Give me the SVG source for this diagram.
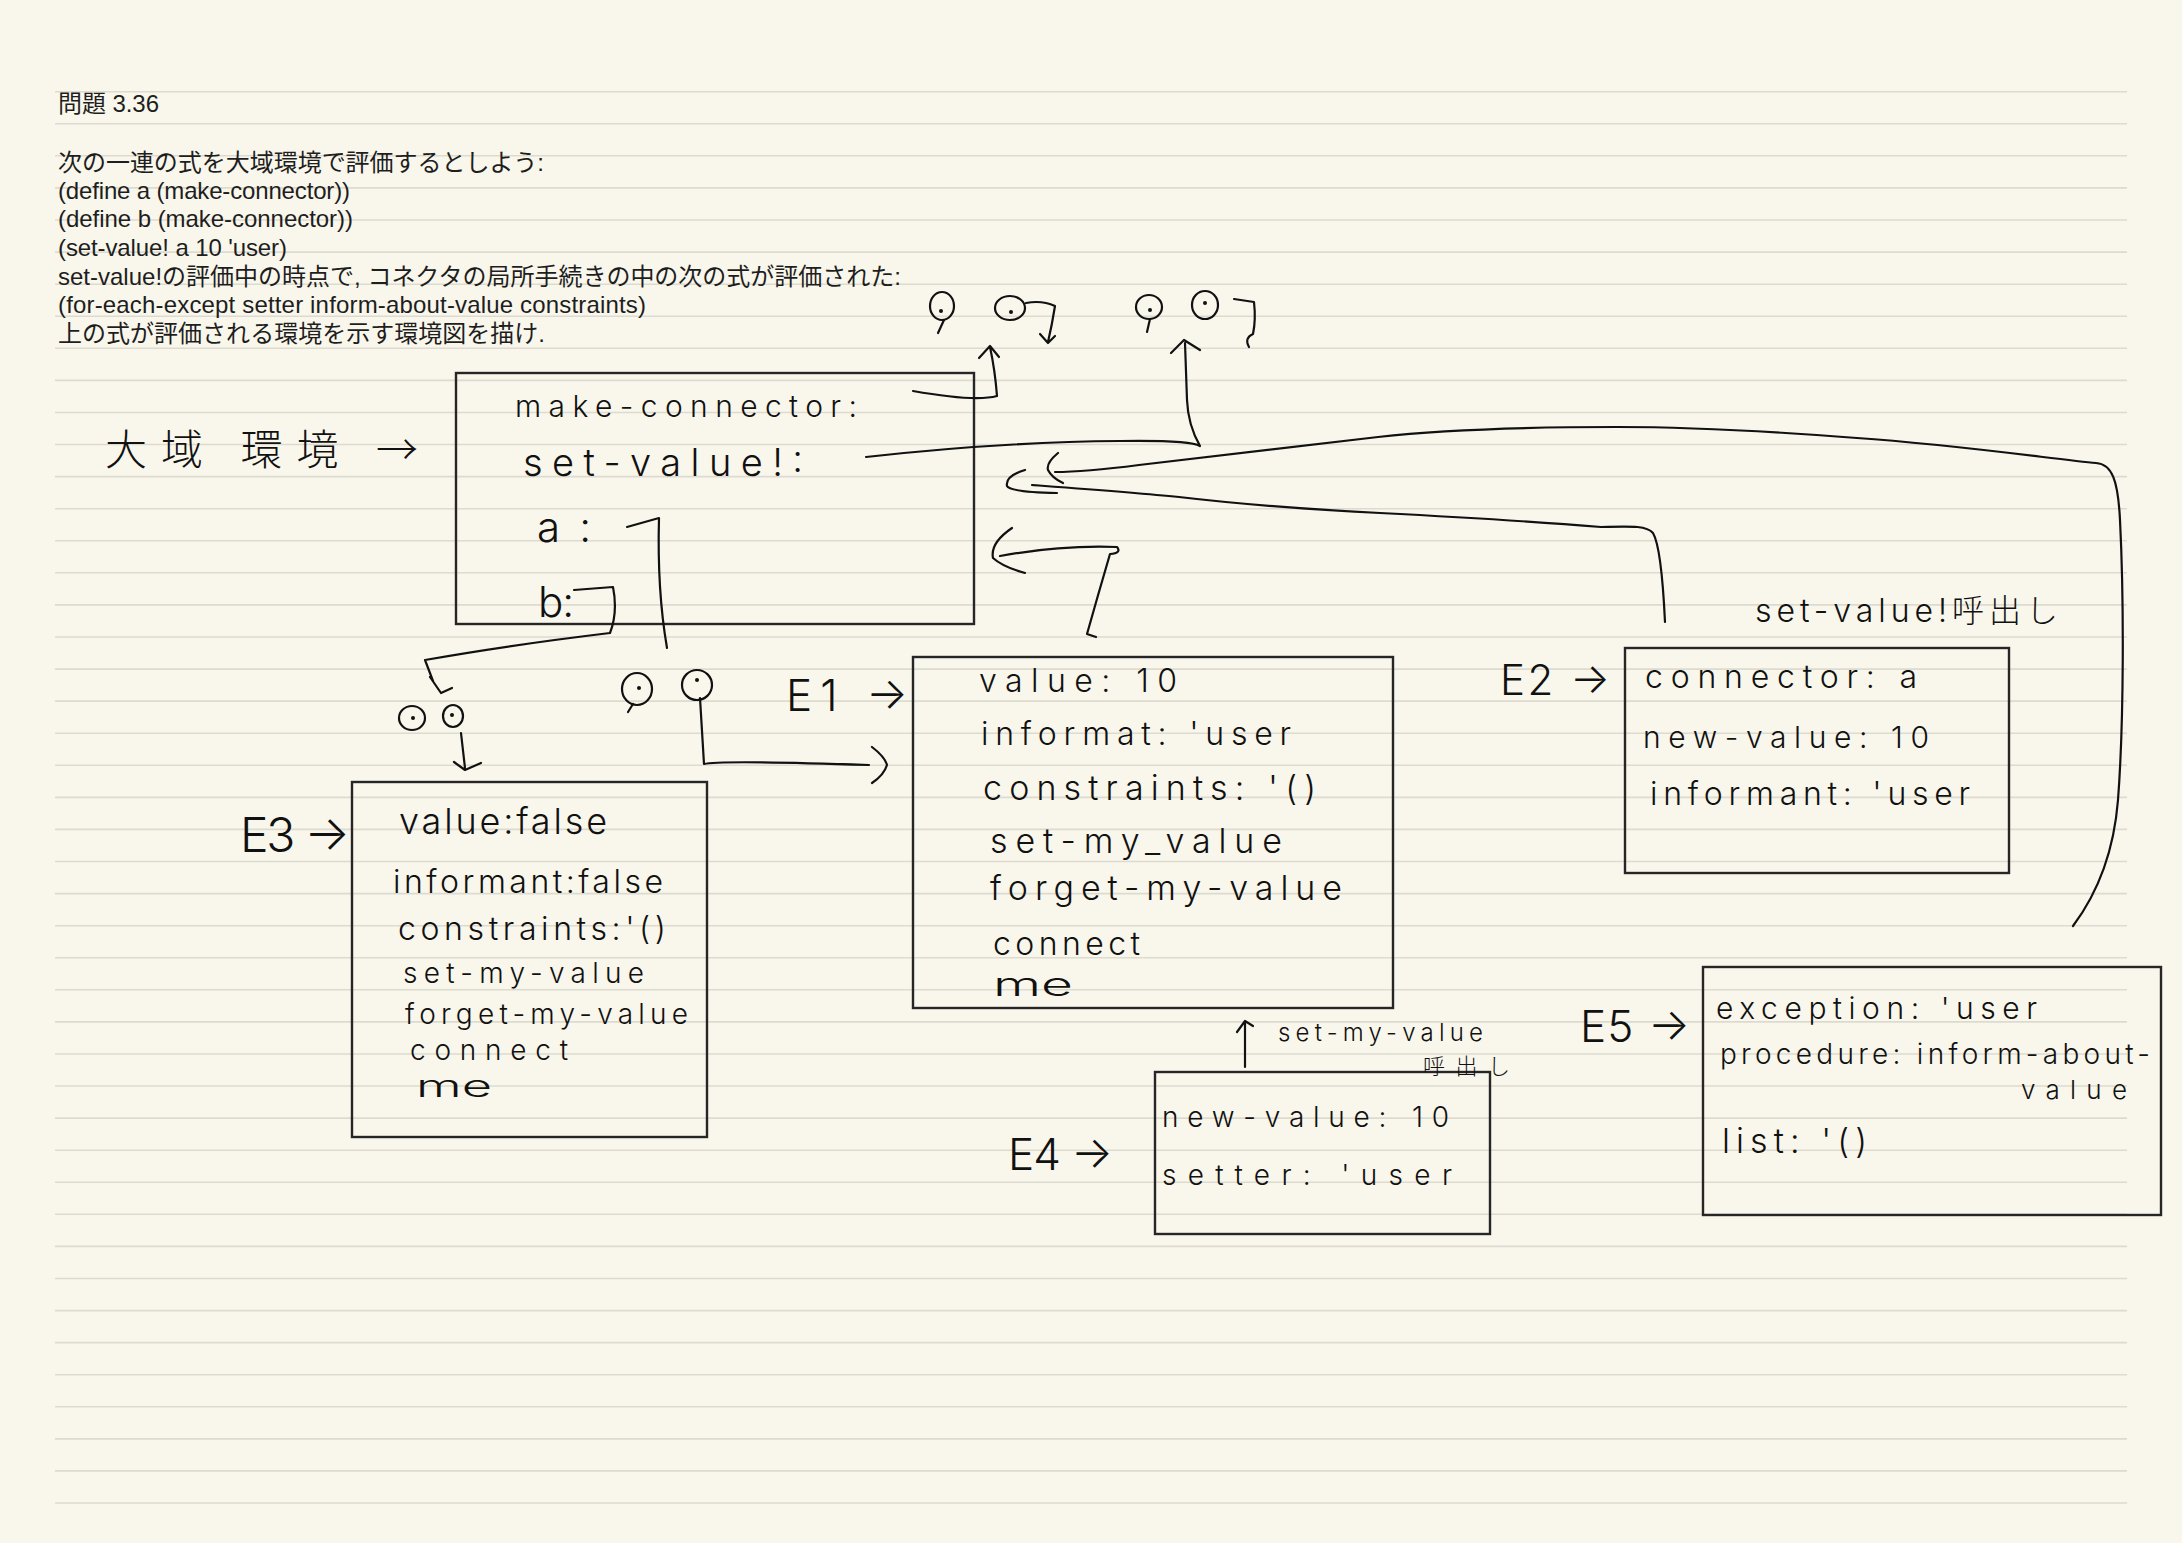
<svg xmlns="http://www.w3.org/2000/svg" width="2182" height="1543" viewBox="0 0 2182 1543">
<defs>
<style>
.bg{fill:#f9f7ec}
.rule{fill:none;stroke:#dddad0;stroke-width:1.6}
.typed{font-family:"Liberation Sans","Noto Sans CJK JP",sans-serif;font-size:24px;fill:#1e1e1e}
.box{fill:none;stroke:#262626;stroke-width:2.4}
.hw{font-family:"Inter","Liberation Sans","Noto Sans CJK JP",sans-serif;font-weight:300;fill:#111}
.hwj{font-family:"Noto Sans CJK JP","Liberation Sans",sans-serif;font-weight:300;fill:#111}
.ink{fill:none;stroke:#111;stroke-width:2.2;stroke-linecap:round;stroke-linejoin:round}
.dot{fill:#111}
</style>
</defs>

<g id="page">
<rect class="bg" x="0" y="0" width="2182" height="1543"/>
<path class="rule" d="M55,91.7H2127M55,123.8H2127M55,155.8H2127M55,187.9H2127M55,220H2127M55,252.1H2127M55,284.2H2127M55,316.2H2127M55,348.3H2127M55,380.4H2127M55,412.5H2127M55,444.5H2127M55,476.6H2127M55,508.7H2127M55,540.8H2127M55,572.8H2127M55,604.9H2127M55,637H2127M55,669.1H2127M55,701.1H2127M55,733.2H2127M55,765.3H2127M55,797.4H2127M55,829.4H2127M55,861.5H2127M55,893.6H2127M55,925.7H2127M55,957.7H2127M55,989.8H2127M55,1021.9H2127M55,1054H2127M55,1086H2127M55,1118.1H2127M55,1150.2H2127M55,1182.3H2127M55,1214.3H2127M55,1246.4H2127M55,1278.5H2127M55,1310.6H2127M55,1342.6H2127M55,1374.7H2127M55,1406.8H2127M55,1438.9H2127M55,1470.9H2127M55,1503H2127"/>
</g>

<g id="problem-text">
<text class="typed" x="58" y="112" textLength="101">問題 3.36</text>
<text class="typed" x="58" y="171" textLength="486">次の一連の式を大域環境で評価するとしよう:</text>
<text class="typed" x="58" y="199" textLength="292">(define a (make-connector))</text>
<text class="typed" x="58" y="227" textLength="295">(define b (make-connector))</text>
<text class="typed" x="58" y="256" textLength="229">(set-value! a 10 'user)</text>
<text class="typed" x="58" y="285" textLength="843">set-value!の評価中の時点で, コネクタの局所手続きの中の次の式が評価された:</text>
<text class="typed" x="58" y="313" textLength="588">(for-each-except setter inform-about-value constraints)</text>
<text class="typed" x="58" y="342" textLength="487">上の式が評価される環境を示す環境図を描け.</text>
</g>

<g id="global-env">
<rect class="box" x="456" y="373" width="518" height="251"/>
<text class="hwj" x="105" y="465" font-size="42" textLength="313">大域 環境 →</text>
<text class="hw" x="515" y="417" font-size="30" textLength="342">make-connector:</text>
<text class="hw" x="523" y="476" font-size="38" textLength="280">set-value!:</text>
<text class="hw" x="537" y="542" font-size="42" textLength="54">a:</text>
<text class="hw" x="538" y="617" font-size="42" textLength="36">b:</text>
</g>

<g id="pair-make-connector">
<ellipse class="ink" cx="942" cy="306" rx="12" ry="14"/>
<path class="ink" d="M944,320 L938,333"/>
<circle class="dot" cx="941" cy="311" r="2"/>
<ellipse class="ink" cx="1010" cy="308" rx="15" ry="12"/>
<circle class="dot" cx="1011" cy="312" r="2"/>
<path class="ink" d="M1026,303 Q1042,300 1055,306 Q1052,325 1048,342 M1040,334 L1048,343 L1055,336"/>
</g>

<g id="pair-set-value">
<ellipse class="ink" cx="1149" cy="307" rx="13" ry="12"/>
<path class="ink" d="M1150,319 L1147,332"/>
<circle class="dot" cx="1150" cy="310" r="2"/>
<ellipse class="ink" cx="1205" cy="305" rx="13" ry="14"/>
<circle class="dot" cx="1205" cy="303" r="2"/>
<path class="ink" d="M1234,299 L1254,302 Q1256,320 1253,334 Q1244,338 1249,347"/>
</g>

<g id="pair-E1">
<ellipse class="ink" cx="637" cy="689" rx="15" ry="16"/>
<path class="ink" d="M633,704 L628,712"/>
<circle class="dot" cx="639" cy="688" r="2"/>
<ellipse class="ink" cx="697" cy="685" rx="15" ry="15"/>
<circle class="dot" cx="697" cy="680" r="2"/>
</g>

<g id="pair-E3">
<ellipse class="ink" cx="412" cy="718" rx="13" ry="12"/>
<circle class="dot" cx="413" cy="718" r="2"/>
<ellipse class="ink" cx="453" cy="716" rx="10" ry="11"/>
<circle class="dot" cx="452" cy="715" r="2"/>
</g>

<g id="E1">
<rect class="box" x="913" y="657" width="480" height="351"/>
<text class="hw" x="786" y="711" font-size="44" textLength="122">E1 →</text>
<text class="hw" x="979" y="692" font-size="32" textLength="198">value: 10</text>
<text class="hw" x="981" y="745" font-size="32" textLength="310">informat: 'user</text>
<text class="hw" x="983" y="800" font-size="34" textLength="333">constraints: '()</text>
<text class="hw" x="990" y="853" font-size="34" textLength="292">set-my_value</text>
<text class="hw" x="990" y="900" font-size="34" textLength="352">forget-my-value</text>
<text class="hw" x="993" y="955" font-size="32" textLength="147">connect</text>
<text class="hw" x="993" y="996" font-size="32" textLength="80" lengthAdjust="spacingAndGlyphs">me</text>
</g>

<g id="E2">
<rect class="box" x="1625" y="648" width="384" height="225"/>
<text class="hw" x="1500" y="695" font-size="42" textLength="110">E2 →</text>
<text class="hw" x="1645" y="688" font-size="32" textLength="272">connector: a</text>
<text class="hw" x="1643" y="748" font-size="30" textLength="286">new-value: 10</text>
<text class="hw" x="1650" y="805" font-size="32" textLength="320">informant: 'user</text>
<text class="hw" x="1755" y="622" font-size="32" textLength="303">set-value!呼出し</text>
</g>

<g id="E3">
<rect class="box" x="352" y="782" width="355" height="355"/>
<text class="hw" x="240" y="852" font-size="48" textLength="110">E3 →</text>
<text class="hw" x="399" y="834" font-size="36" textLength="208">value:false</text>
<text class="hw" x="393" y="893" font-size="32" textLength="270">informant:false</text>
<text class="hw" x="398" y="940" font-size="32" textLength="268">constraints:'()</text>
<text class="hw" x="403" y="983" font-size="28" textLength="241">set-my-value</text>
<text class="hw" x="405" y="1024" font-size="28" textLength="283">forget-my-value</text>
<text class="hw" x="410" y="1060" font-size="28" textLength="158">connect</text>
<text class="hw" x="416" y="1097" font-size="30" textLength="76" lengthAdjust="spacingAndGlyphs">me</text>
</g>

<g id="E4">
<rect class="box" x="1155" y="1072" width="335" height="162"/>
<text class="hw" x="1008" y="1170" font-size="44" textLength="105">E4 →</text>
<text class="hw" x="1162" y="1127" font-size="28" textLength="287">new-value: 10</text>
<text class="hw" x="1162" y="1185" font-size="28" textLength="290">setter: 'user</text>
<text class="hw" x="1278" y="1041" font-size="24" textLength="205">set-my-value</text>
<text class="hwj" x="1423" y="1074" font-size="22" textLength="87">呼出し</text>
</g>

<g id="E5">
<rect class="box" x="1703" y="967" width="458" height="248"/>
<text class="hw" x="1580" y="1042" font-size="44" textLength="110">E5 →</text>
<text class="hw" x="1716" y="1019" font-size="30" textLength="321">exception: 'user</text>
<text class="hw" x="1720" y="1064" font-size="28" textLength="430">procedure: inform-about-</text>
<text class="hw" x="2021" y="1099" font-size="26" textLength="106">value</text>
<text class="hw" x="1722" y="1153" font-size="34" textLength="145">list: '()</text>
</g>

<g id="connectors">
<path class="ink" d="M913,391 Q975,402 997,396 Q995,370 990,347 M979,358 L990,346 L999,357"/>
<path class="ink" d="M866,457 Q1000,442 1120,441 Q1190,440 1200,446 Q1188,425 1187,400 L1185,343 M1171,353 L1184,340 L1200,350"/>
<path class="ink" d="M627,527 L659,518 Q657,590 667,648"/>
<path class="ink" d="M574,590 L613,587 Q618,612 610,633 Q510,645 425,660 L433,681 M430,677 L441,693 L452,688"/>
<path class="ink" d="M700,698 L704,764 Q720,760 869,765 M872,747 Q885,757 887,765 Q884,775 872,783"/>
<path class="ink" d="M461,733 L465,768 M454,762 L465,770 L481,763"/>
<path class="ink" d="M1096,637 L1087,634 Q1098,595 1110,554 Q1122,553 1117,547 Q1060,545 1000,556 M1012,528 Q990,543 993,558 Q1003,567 1025,573"/>
<path class="ink" d="M1665,622 C1663,580 1660,545 1653,533 C1647,526 1635,526 1601,527 C1540,522 1458,517 1380,513 C1300,509 1230,503 1179,497 C1140,493 1099,490 1032,485 M1025,470 Q1005,476 1007,486 Q1010,492 1057,493"/>
<path class="ink" d="M2073,926 C2100,890 2114,850 2118,800 C2124,720 2124,600 2120,520 C2118,480 2112,464 2096,463 C2060,460 1960,445 1857,438 C1780,432 1700,427 1617,427 C1520,427 1440,430 1378,437 C1300,446 1220,455 1139,465 C1100,470 1080,472 1055,472 M1058,453 Q1046,463 1048,470 Q1052,478 1063,483"/>
<path class="ink" d="M1245,1067 L1245,1022 M1237,1032 L1245,1021 L1253,1026"/>
</g>
</svg>
